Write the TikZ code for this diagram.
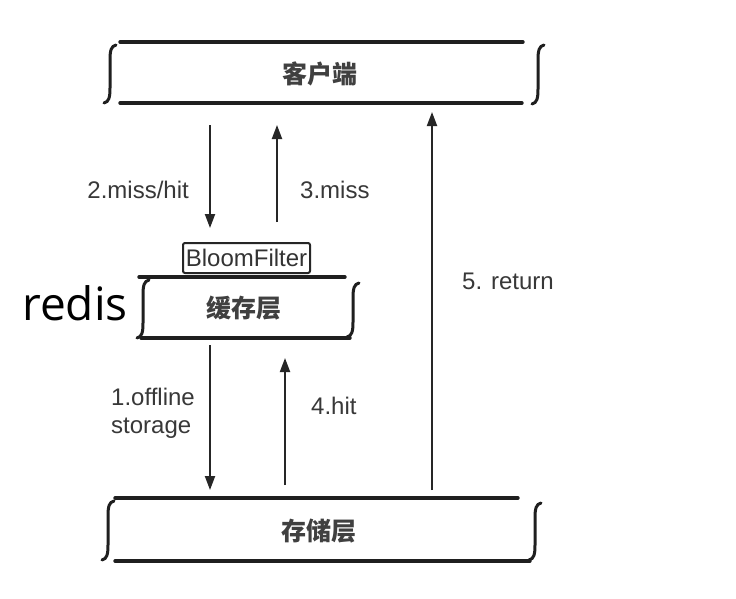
\documentclass[tikz,border=0pt]{standalone}
\usepackage{fontspec}
\setmainfont{Liberation Sans}
\newfontfamily\cjk{Noto Sans CJK SC}
\newfontfamily\redisfont{Open Sans}
\usetikzlibrary{arrows.meta}
\newcommand\intbrace[3]{% x, ytop, ybottom
  \draw[bracestyle] ({#1+6},{#2}) .. controls ({#1+1},{#2-1}) and ({#1},{#2-6}) .. ({#1},{#2-15})
    -- ({#1},{#3+15}) .. controls ({#1},{#3+6}) and ({#1-1},{#3+1}) .. ({#1-6},{#3});}
\begin{document}
\begin{tikzpicture}[x=1pt,y=1pt,
  layer/.style={inner sep=0pt, font=\cjk\bfseries\fontsize{25}{25}\selectfont, text=black!75},
  edge/.style={line width=3.4pt, black!88, line cap=round},
  bracestyle/.style={line width=3pt, black!88, line cap=round},
  arr/.style={line width=2pt, black!85, -{Triangle[length=14pt,width=10pt]}},
  lbl/.style={font=\fontsize{24}{28}\selectfont, text=black!78, inner sep=0pt}]
\useasboundingbox[fill=white] (0,0) rectangle (736,-598);

% layers
\node[layer, minimum width=403pt, minimum height=61pt] (client) at (320,-74) {客户端};
\node[layer, minimum width=205pt, minimum height=61pt] (cache) at (244,-308) {缓存层};
\node[layer, minimum width=403pt, minimum height=62pt] (store) at (319,-531) {存储层};
\node[draw, line width=2pt, black!85, rounded corners=2pt, minimum width=127pt, minimum height=30pt, inner sep=0pt,
      font=\fontsize{24}{24}\selectfont, text=black!80] (bf) at (246.5,-258) {BloomFilter};
\node[font=\redisfont\fontsize{46}{46}\selectfont, inner sep=0pt] (redis) at (75,-303) {redis};

% client box
\draw[edge] (120,-42) -- (523,-42);
\draw[edge] (120,-103) -- (522,-103);
\intbrace{110}{-45}{-103}
\intbrace{538}{-45}{-104}

% cache box
\draw[edge] (139,-277) -- (345,-277);
\draw[edge] (141,-338) -- (350,-338);
\intbrace{143}{-280}{-338}
\intbrace{353}{-283}{-337}

% storage box
\draw[edge] (115,-498) -- (518,-498);
\draw[edge] (115,-561) -- (530,-561);
\intbrace{108}{-501}{-560}
\intbrace{535}{-503}{-560}

% connectors
\coordinate (a2s) at (210,-125);  \coordinate (a2e) at (210,-228);
\coordinate (a3s) at (277,-222);  \coordinate (a3e) at (277,-125);
\coordinate (a1s) at (210,-345);  \coordinate (a1e) at (210,-490);
\coordinate (a4s) at (285,-485);  \coordinate (a4e) at (285,-358);
\coordinate (a5s) at (432,-490);  \coordinate (a5e) at (432,-112);
\draw[arr] (a2s) -- (a2e);
\draw[arr] (a3s) -- (a3e);
\draw[arr] (a1s) -- (a1e);
\draw[arr] (a4s) -- (a4e);
\draw[arr] (a5s) -- (a5e);

% labels
\node[lbl, anchor=east] (l2) at (189,-190) {2.miss/hit};
\node[lbl, anchor=west] (l3) at (300,-190) {3.miss};
\node[lbl, anchor=west, align=left] (l1) at (111,-413) {1.offline\\storage};
\node[lbl, anchor=west] (l4) at (311,-406) {4.hit};
\node[lbl, anchor=west] (l5) at (462,-281) {5. return};
\end{tikzpicture}
\end{document}
